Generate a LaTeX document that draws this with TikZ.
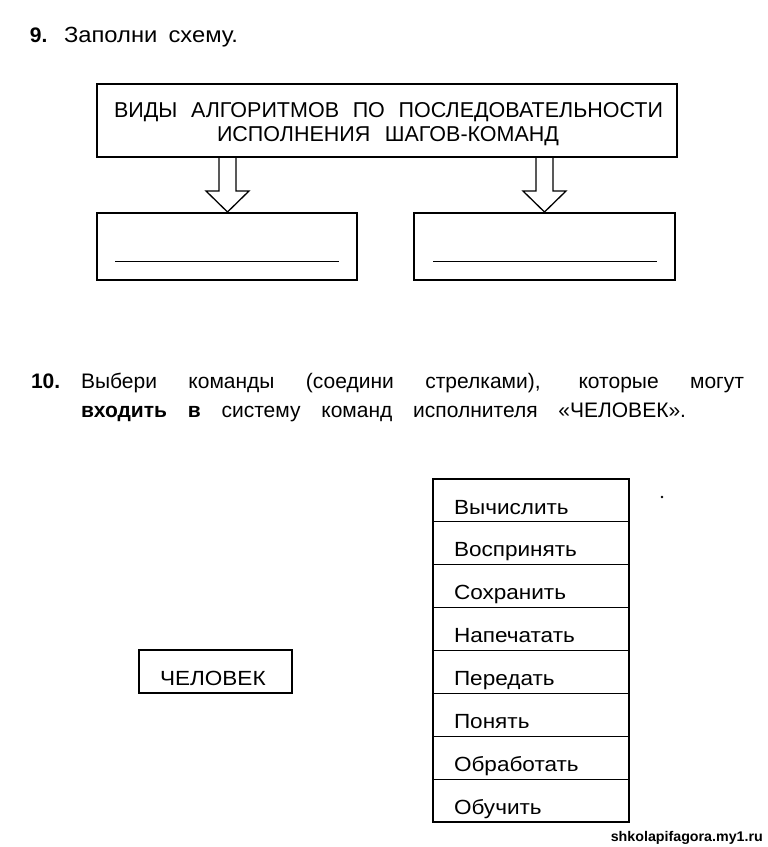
\documentclass[tikz,border=0pt]{standalone}
\usepackage{fontspec}
\usepackage{graphicx}
\setmainfont{Liberation Sans}
\newfontfamily\widefont{Liberation Sans}[FakeStretch=1.1]
\newfontfamily\headfont{Liberation Sans}[FakeStretch=1.08]
\begin{document}
\begin{tikzpicture}[x=1pt,y=-1pt,
  txt/.style={inner sep=0pt,outer sep=0pt,anchor=base west,font=\fontsize{21}{21}\selectfont},
  item/.style={inner sep=0pt,outer sep=0pt,anchor=base west,font=\widefont\fontsize{20.5}{20.5}\selectfont},
  box/.style={draw,line width=1.3pt,rectangle,inner sep=0pt},
  cell/.style={draw,line width=1.1pt,rectangle,inner sep=0pt,minimum width=196pt,minimum height=42.875pt},
  blockarrow/.style={draw,line width=1.3pt,line join=miter},
  fillline/.style={line width=0.9pt}]
\useasboundingbox (0,0) rectangle (768,847);

% Task 9
\node[txt] (n9) at (30,42) {\textbf{9.}};
\node[txt,font=\headfont\fontsize{22}{22}\selectfont] (t9) at (64,42) {\makebox[174pt][s]{Заполни\ \ схему.}};

\node[box,line width=1.6pt,minimum width=580pt,minimum height=73pt] (head) at (387,120.5) {};
\node[txt,font=\fontsize{21.5}{21.5}\selectfont] (h1) at (114,117) {\makebox[549pt][s]{ВИДЫ АЛГОРИТМОВ ПО ПОСЛЕДОВАТЕЛЬНОСТИ}};
\node[txt,font=\fontsize{21.5}{21.5}\selectfont] (h2) at (217,141) {\makebox[342pt][s]{ИСПОЛНЕНИЯ ШАГОВ-КОМАНД}};

\node[box,minimum width=260pt,minimum height=67pt] (bl) at (227,246.5) {};
\node[box,minimum width=261pt,minimum height=67pt] (br) at (544.5,246.5) {};

\coordinate (la) at (227.5,157);
\coordinate (ra) at (544.5,157);
\draw[blockarrow] (la) ++(-8.5,0) -- ++(0,34) -- ++(-13,0) -- (227.5,212) -- (249,191) -- (236,191) -- (236,157);
\draw[blockarrow] (ra) ++(-8.5,0) -- ++(0,34) -- ++(-13,0) -- (544.5,212) -- (566,191) -- (553,191) -- (553,157);

\coordinate (bl1) at (115,261);
\coordinate (bl2) at (339,261);
\coordinate (br1) at (433,261);
\coordinate (br2) at (657,261);
\draw[fillline] (bl1) -- (bl2);
\draw[fillline] (br1) -- (br2);

% Task 10
\node[txt] (n10) at (31,388) {\textbf{10.}};
\node[txt] (l1) at (81,388) {\makebox[663pt][s]{Выбери команды (соедини стрелками), которые могут}};
\node[txt] (l2) at (81,417) {\makebox[605pt][s]{\textbf{входить в} систему команд исполнителя «ЧЕЛОВЕК».}};

\foreach \t [count=\i from 0] in {Вычислить,Воспринять,Сохранить,Напечатать,Передать,Понять,Обработать,Обучить}{
  \node[cell] (r\i) at (531,{479+42.875*\i+21.4375}) {};
  \node[item] (c\i) at (454,{479+42.875*\i+35}) {\t};
}

\node[box,line width=1.1pt,minimum width=153pt,minimum height=43pt] (man) at (215.5,671.5) {};
\node[item] (mant) at (160,685) {ЧЕЛОВЕК};

\fill (662,497) circle (1.4pt);

\node[inner sep=0pt,anchor=base east,font=\bfseries\fontsize{14}{14}\selectfont] (wm) at (763,841) {\resizebox{152pt}{\height}{shkolapifagora.my1.ru}};
\end{tikzpicture}
\end{document}
